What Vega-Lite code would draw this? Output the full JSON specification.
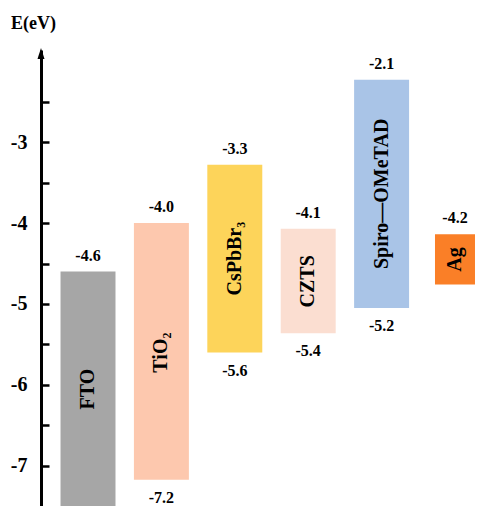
{
  "$schema": "https://vega.github.io/schema/vega-lite/v6.json",
  "width": 441,
  "height": 456,
  "autosize": {"type": "none"},
  "padding": {"left": 41, "top": 50, "right": 0, "bottom": 0},
  "background": "white",
  "config": {"view": {"stroke": null}, "font": "Liberation Serif"},
  "data": {
    "values": [
      {"material": "FTO", "label": "FTO", "top": -4.6, "bottom": -7.6, "mid": -6.05, "topLabel": "-4.6", "bottomLabel": ""},
      {"material": "TiO2", "label": "TiO₂", "top": -4.0, "bottom": -7.17, "mid": -5.6, "topLabel": "-4.0", "bottomLabel": "-7.2"},
      {"material": "CsPbBr3", "label": "CsPbBr₃", "top": -3.28, "bottom": -5.6, "mid": -4.44, "topLabel": "-3.3", "bottomLabel": "-5.6"},
      {"material": "CZTS", "label": "CZTS", "top": -4.07, "bottom": -5.36, "mid": -4.72, "topLabel": "-4.1", "bottomLabel": "-5.4"},
      {"material": "Spiro", "label": "Spiro—OMeTAD", "top": -2.23, "bottom": -5.05, "mid": -3.64, "topLabel": "-2.1", "bottomLabel": "-5.2"},
      {"material": "Ag", "label": "Ag", "top": -4.14, "bottom": -4.76, "mid": -4.45, "topLabel": "-4.2", "bottomLabel": ""}
    ]
  },
  "encoding": {
    "x": {
      "field": "material",
      "type": "nominal",
      "sort": null,
      "axis": null,
      "scale": {
        "domain": ["FTO", "TiO2", "CsPbBr3", "CZTS", "Spiro", "Ag"],
        "range": [0, 461],
        "paddingInner": 0.251,
        "paddingOuter": 0.266
      }
    }
  },
  "layer": [
    {
      "transform": [{"filter": "datum.material !== 'Ag'"}],
      "mark": {"type": "bar", "clip": true},
      "encoding": {
        "y": {
          "field": "top",
          "type": "quantitative",
          "scale": {"domain": [-7.494, -1.864], "nice": false, "zero": false},
          "axis": {
            "values": [-7, -6.5, -6, -5.5, -5, -4.5, -4, -3.5, -3, -2.5],
            "labelExpr": "datum.value % 1 === 0 ? '' + datum.value : ''",
            "grid": false,
            "domainColor": "black",
            "domainWidth": 3,
            "tickColor": "black",
            "tickWidth": 2.5,
            "tickSize": -8,
            "labelPadding": 22,
            "labelFontSize": 20,
            "labelFontWeight": "bold",
            "labelColor": "black",
            "labelFont": "Liberation Serif",
            "title": "E(eV)",
            "titleAngle": 0,
            "titleX": -8,
            "titleY": -27,
            "titleAlign": "center",
            "titleBaseline": "middle",
            "titleFontSize": 18,
            "titleFontWeight": "bold",
            "titleFont": "Liberation Serif",
            "titleColor": "black"
          }
        },
        "y2": {"field": "bottom"},
        "color": {
          "field": "material",
          "type": "nominal",
          "legend": null,
          "scale": {
            "domain": ["FTO", "TiO2", "CsPbBr3", "CZTS", "Spiro", "Ag"],
            "range": ["#A6A6A6", "#FDC8AE", "#FDD45A", "#FBDED1", "#A9C4E7", "#FA7F27"]
          }
        }
      }
    },
    {
      "transform": [{"filter": "datum.material === 'Ag'"}],
      "mark": {"type": "bar", "width": 40, "clip": true},
      "encoding": {
        "y": {"field": "top", "type": "quantitative"},
        "y2": {"field": "bottom"},
        "color": {"field": "material", "type": "nominal", "legend": null}
      }
    },
    {
      "mark": {"type": "text", "dy": -16, "baseline": "middle", "fontSize": 16, "fontWeight": "bold", "color": "black", "font": "Liberation Serif"},
      "encoding": {
        "y": {"field": "top", "type": "quantitative"},
        "text": {"field": "topLabel"}
      }
    },
    {
      "mark": {"type": "text", "dy": 18, "baseline": "middle", "fontSize": 16, "fontWeight": "bold", "color": "black", "font": "Liberation Serif"},
      "encoding": {
        "y": {"field": "bottom", "type": "quantitative"},
        "text": {"field": "bottomLabel"}
      }
    },
    {
      "mark": {"type": "text", "angle": 270, "baseline": "middle", "align": "center", "fontSize": 20, "fontWeight": "bold", "color": "black", "font": "Liberation Serif"},
      "encoding": {
        "y": {"field": "mid", "type": "quantitative"},
        "text": {"field": "label"}
      }
    },
    {
      "data": {"values": [{"tip": -1.914}]},
      "mark": {"type": "point", "shape": "M0,-1.2L0.7,1L-0.7,1Z", "filled": true, "size": 100, "color": "black", "opacity": 1},
      "encoding": {
        "x": {"value": 0},
        "y": {"field": "tip", "type": "quantitative"}
      }
    }
  ]
}
